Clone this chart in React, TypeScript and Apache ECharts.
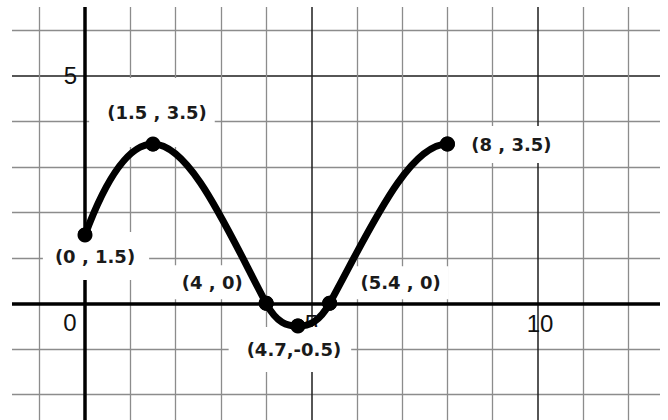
import React, { useEffect, useRef } from 'react';
import * as echarts from 'echarts';

// ---- data ----
const xValues = [0, 1.5, 4, 4.7, 5.4, 8];
const yValues = [1.5, 3.5, 0, -0.5, 0, 3.5];
const pointLabels = ['(0 , 1.5)', '(1.5 , 3.5)', '(4 , 0)', '(4.7,-0.5)', '(5.4 , 0)', '(8 , 3.5)'];
const xTickLabels = [0, 5, 10];
const yTickLabels = [5];

// ---- label placement (text centre offset from the point, box padding [t, r, b, l]) ----
const labelLayout: { dx: number; dy: number; pad: number[] }[] = [
  { dx: 10, dy: 22, pad: [16, 14, 14, 12] },
  { dx: 4, dy: -29, pad: [28, 8, 23, 18] },
  { dx: -54, dy: -16, pad: [13, 8, 3, 8] },
  { dx: -4, dy: 24, pad: [14, 10, 13, 18] },
  { dx: 71, dy: -16, pad: [12, 8, 3, 8] },
  { dx: 64, dy: 2, pad: [11, 8, 8, 8] },
];

const TICK_FONT = 'Liberation Sans';
const LABEL_FONT = 'DejaVu Sans';

function tangents(): number[] {
  const n = xValues.length;
  const yMax = Math.max(...yValues);
  const yMin = Math.min(...yValues);
  const m: number[] = [];
  for (let i = 0; i < n; i++) {
    const y = yValues[i];
    const interior = i > 0 && i < n - 1;
    const isExtreme =
      y === yMax || y === yMin ||
      (interior && (y - yValues[i - 1]) * (yValues[i + 1] - y) <= 0);
    if (isExtreme) m.push(0);
    else if (interior)
      m.push((1.5 * (yValues[i + 1] - yValues[i - 1])) / (xValues[i + 1] - xValues[i - 1]));
    else if (i === 0) m.push((2 * (yValues[1] - yValues[0])) / (xValues[1] - xValues[0]));
    else m.push((2 * (yValues[n - 1] - yValues[n - 2])) / (xValues[n - 1] - xValues[n - 2]));
  }
  return m;
}

export default function App() {
  const ref = useRef<HTMLDivElement>(null);

  useEffect(() => {
    if (!ref.current) return;
    const chart = echarts.init(ref.current, undefined, { renderer: 'svg' });
    const slopes = tangents();

    const axisCommon = {
      type: 'value',
      interval: 5,
      axisTick: { show: false },
      axisLabel: { show: false },
      axisLine: { show: true, onZero: true, lineStyle: { color: '#000', width: 3.5 } },
      splitLine: { show: true, lineStyle: { color: '#1e1e1e', width: 1.5 } },
      minorTick: { show: false, splitNumber: 5 },
      minorSplitLine: { show: true, lineStyle: { color: '#8c8c8c', width: 1.3 } },
    };

    const tickText = { fontFamily: TICK_FONT, fontSize: 24, color: '#111' };

    const option: any = {
      animation: false,
      backgroundColor: '#ffffff',
      grid: {
        left: -141.5, right: -96.5, top: -151.7, bottom: -110.8,
        containLabel: false, outerBoundsMode: 'none',
      },
      xAxis: { ...axisCommon, min: -5, max: 15 },
      yAxis: { ...axisCommon, min: -5, max: 10 },
      series: [
        // tick labels, placed through the axes' scales
        {
          type: 'scatter',
          z: 1,
          silent: true,
          symbolSize: 0,
          itemStyle: { opacity: 1 },
          data: [
            ...xTickLabels.map((v) => ({
              value: [v, 0],
              label: {
                show: true,
                position: 'inside',
                formatter: String(v),
                offset: v === 0 ? [-15, 19] : [v >= 10 ? 2 : 0, 20],
                ...tickText,
              },
            })),
            ...yTickLabels.map((v) => ({
              value: [0, v],
              label: {
                show: true,
                position: 'inside',
                formatter: String(v),
                offset: [-14.5, 0],
                ...tickText,
              },
            })),
          ],
        },
        // point labels (under the curve)
        {
          type: 'scatter',
          z: 2,
          symbol: 'circle',
          symbolSize: 15,
          itemStyle: { color: '#000', opacity: 1 },
          silent: true,
          data: xValues.map((x, i) => {
            const L = labelLayout[i];
            const p = L.pad;
            return {
              value: [x, yValues[i]],
              label: {
                show: true,
                position: 'inside',
                formatter: pointLabels[i],
                offset: [L.dx + (p[1] - p[3]) / 2, L.dy + (p[2] - p[0]) / 2],
                padding: p,
                backgroundColor: '#ffffff',
                fontFamily: LABEL_FONT,
                fontWeight: 'bold',
                fontSize: 18,
                color: '#1a1a1a',
              },
            };
          }),
        },
        // the smooth curve through the points
        {
          type: 'custom',
          z: 3,
          silent: true,
          clip: false,
          data: [[xValues[0], yValues[0]]],
          renderItem: (_params: any, api: any) => {
            const children: any[] = [];
            for (let i = 0; i < xValues.length - 1; i++) {
              const h = xValues[i + 1] - xValues[i];
              const p0 = api.coord([xValues[i], yValues[i]]);
              const p1 = api.coord([xValues[i + 1], yValues[i + 1]]);
              const c1 = api.coord([xValues[i] + h / 3, yValues[i] + (slopes[i] * h) / 3]);
              const c2 = api.coord([xValues[i + 1] - h / 3, yValues[i + 1] - (slopes[i + 1] * h) / 3]);
              children.push({
                type: 'bezierCurve',
                shape: {
                  x1: p0[0], y1: p0[1], x2: p1[0], y2: p1[1],
                  cpx1: c1[0], cpy1: c1[1], cpx2: c2[0], cpy2: c2[1],
                },
                style: { fill: null, stroke: '#000', lineWidth: 7, lineCap: 'round' },
              });
            }
            return { type: 'group', children };
          },
        },
        // point markers
        {
          type: 'scatter',
          z: 4,
          symbol: 'circle',
          symbolSize: 15,
          itemStyle: { color: '#000', opacity: 1 },
          silent: true,
          data: xValues.map((x, i) => [x, yValues[i]]),
        },
      ],
      graphic: [
        { type: 'rect', z: 100, shape: { x: 0, y: 0, width: 12, height: 420 }, style: { fill: '#fff' } },
        { type: 'rect', z: 100, shape: { x: 0, y: 0, width: 668, height: 7 }, style: { fill: '#fff' } },
        { type: 'rect', z: 100, shape: { x: 660, y: 0, width: 8, height: 420 }, style: { fill: '#fff' } },
      ],
    };

    chart.setOption(option);
    return () => chart.dispose();
  }, []);

  return (
    <div
      ref={ref}
      style={{ position: 'fixed', left: 0, top: 0, width: 668, height: 420, background: '#fff' }}
    />
  );
}
